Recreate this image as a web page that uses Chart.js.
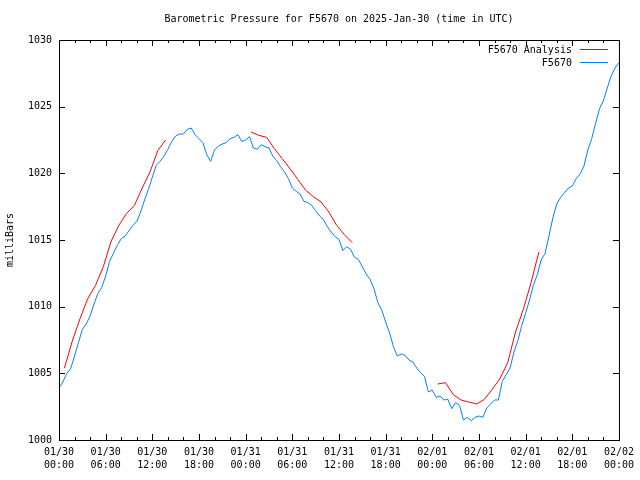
<!DOCTYPE html>
<html>
<head>
<meta charset="utf-8">
<script src="https://cdn.jsdelivr.net/npm/chart.js@4/dist/chart.umd.min.js"></script>
<style>
  body { margin: 0; background: #fff; }
  canvas { display: block; }
</style>
</head>
<body>
<canvas id="myChart" width="640" height="480"></canvas>
<script>
// hours since 2025-01-30 00:00 UTC
const titleText = 'Barometric Pressure for F5670 on 2025-Jan-30 (time in UTC)';
const tickDates = ['01/30', '01/30', '01/30', '01/30', '01/31', '01/31', '01/31', '01/31', '02/01', '02/01', '02/01', '02/01', '02/02'];
const tickTimes = ['00:00', '06:00', '12:00', '18:00', '00:00', '06:00', '12:00', '18:00', '00:00', '06:00', '12:00', '18:00', '00:00'];

// station readings, one every half hour from 00:00
const stationStep = 0.5;
const stationPressure = [
    1003.9, 1004.35, 1005.0, 1005.35, 1006.3, 1007.3, 1008.3, 1008.7, 1009.3, 1010.2,
    1011.0, 1011.45, 1012.3, 1013.4, 1014.0, 1014.6, 1015.1, 1015.3, 1015.7, 1016.1,
    1016.4, 1017.1, 1018.0, 1018.8, 1019.7, 1020.6, 1020.9, 1021.3, 1021.8, 1022.4,
    1022.8, 1022.95, 1022.95, 1023.3, 1023.4, 1022.9, 1022.6, 1022.3, 1021.4, 1020.9,
    1021.75, 1022.05, 1022.2, 1022.3, 1022.6, 1022.7, 1022.9, 1022.4, 1022.5, 1022.75,
    1021.9, 1021.8, 1022.15, 1022.0, 1021.9, 1021.3, 1020.95, 1020.5, 1020.1, 1019.6,
    1018.9, 1018.65, 1018.45, 1017.9, 1017.8, 1017.6, 1017.2, 1016.8, 1016.55, 1016.0,
    1015.6, 1015.25, 1015.05, 1014.2, 1014.5, 1014.3, 1013.7, 1013.55, 1013.0, 1012.45,
    1012.05, 1011.35, 1010.3, 1009.75, 1008.85, 1008.05, 1007.0, 1006.3, 1006.45, 1006.35,
    1006.0, 1005.85, 1005.4, 1005.05, 1004.75, 1003.6, 1003.75, 1003.2, 1003.3, 1003.0,
    1003.05, 1002.35, 1002.8, 1002.6, 1001.5, 1001.7, 1001.45, 1001.7, 1001.8, 1001.7,
    1002.4, 1002.7, 1003.0, 1003.0, 1004.4, 1004.9, 1005.4, 1006.6, 1007.45, 1008.6,
    1009.5, 1010.5, 1011.6, 1012.4, 1013.5, 1014.0, 1015.3, 1016.65, 1017.7, 1018.2,
    1018.55, 1018.9, 1019.05, 1019.6, 1019.95, 1020.55, 1021.75, 1022.6, 1023.75, 1024.85,
    1025.45, 1026.4, 1027.3, 1027.9, 1028.3
];

// analysis runs, hourly values; start hour of each run
const analysisStarts = [0.7, 24.7, 48.7];
const analysisRun1 = [1005.4, 1007.4, 1009.1, 1010.6, 1011.6, 1013.0, 1014.9, 1016.1, 1017.0, 1017.6, 1018.9, 1020.1, 1021.7, 1022.5];
const analysisRun2 = [1023.1, 1022.85, 1022.7, 1021.85, 1021.1, 1020.35, 1019.55, 1018.75, 1018.25, 1017.85, 1017.1, 1016.1, 1015.4, 1014.8];
const analysisRun3 = [1004.2, 1004.3, 1003.4, 1003.0, 1002.85, 1002.7, 1003.05, 1003.8, 1004.6, 1005.8, 1008.1, 1009.8, 1011.8, 1014.1];

const FONT = '"DejaVu Sans Mono", "Liberation Mono", monospace';

const stationData = stationPressure.map((p, i) => ({x: i * stationStep, y: p}));
const analysisData = [];
[analysisRun1, analysisRun2, analysisRun3].forEach((run, r) => {
    run.forEach((p, i) => analysisData.push({x: analysisStarts[r] + i, y: p}));
    analysisData.push({x: analysisStarts[r] + run.length - 0.5, y: null});
});

// gnuplot-like frame, inward ticks, title and key
const gnuplotLook = {
    id: 'gnuplotLook',
    afterDraw(chart) {
        const {ctx, chartArea: a, scales: {x, y}} = chart;
        ctx.save();
        ctx.strokeStyle = '#000';
        ctx.lineWidth = 1;
        ctx.strokeRect(a.left + 0.5, a.top + 0.5, a.right - a.left, a.bottom - a.top);
        ctx.beginPath();
        for (let h = 0; h <= 72; h += 2) {
            const px = Math.round(x.getPixelForValue(h)) + 0.5;
            const len = h % 6 === 0 ? 6 : 3;
            ctx.moveTo(px, a.bottom); ctx.lineTo(px, a.bottom - len);
            ctx.moveTo(px, a.top); ctx.lineTo(px, a.top + len);
        }
        for (let v = 1000; v <= 1030; v += 5) {
            const py = Math.round(y.getPixelForValue(v)) + 0.5;
            ctx.moveTo(a.left, py); ctx.lineTo(a.left + 6, py);
            ctx.moveTo(a.right, py); ctx.lineTo(a.right - 6, py);
        }
        ctx.stroke();

        ctx.fillStyle = '#000';
        ctx.font = '10px ' + FONT;
        ctx.textBaseline = 'middle';
        ctx.textAlign = 'center';
        ctx.fillText(titleText, (a.left + a.right) / 2, 19);

        ctx.textAlign = 'right';
        chart.data.datasets.forEach((ds, i) => {
            const ty = 50 + i * 13;
            ctx.fillStyle = '#000';
            ctx.fillText(ds.label, a.right - 47, ty);
            ctx.strokeStyle = ds.borderColor;
            ctx.beginPath();
            ctx.moveTo(a.right - 39, ty - 0.5);
            ctx.lineTo(a.right - 11, ty - 0.5);
            ctx.stroke();
        });
        ctx.restore();
    }
};

const ctx = document.getElementById('myChart').getContext('2d');
const chart = new Chart(ctx, {
    type: 'line',
    data: {
        datasets: [
            {label: 'F5670 Analysis', data: analysisData, borderColor: '#ff0000', borderWidth: 1, pointRadius: 0, spanGaps: false},
            {label: 'F5670', data: stationData, borderColor: '#0080ff', borderWidth: 1, pointRadius: 0}
        ]
    },
    options: {
        responsive: false,
        animation: false,
        layout: {padding: {top: 40, right: 19, left: 0, bottom: 0}},
        plugins: {legend: {display: false}, title: {display: false}, tooltip: {enabled: false}},
        scales: {
            x: {
                type: 'linear',
                min: 0,
                max: 72,
                afterFit: s => { s.height = 40; },
                grid: {display: false, drawTicks: false},
                border: {display: false},
                ticks: {
                    stepSize: 6,
                    maxRotation: 0,
                    autoSkip: false,
                    padding: 6,
                    color: '#000',
                    font: {family: FONT, size: 10, lineHeight: 1.3},
                    callback: (v, i) => [tickDates[i], tickTimes[i]]
                }
            },
            y: {
                min: 1000,
                max: 1030,
                afterFit: s => { s.width = 59; },
                grid: {display: false, drawTicks: false},
                border: {display: false},
                title: {display: true, text: 'milliBars', color: '#000', font: {family: FONT, size: 10}, padding: {top: 4, bottom: 0}},
                ticks: {
                    stepSize: 5,
                    padding: 7,
                    color: '#000',
                    font: {family: FONT, size: 10},
                    callback: v => String(v)
                }
            }
        }
    },
    plugins: [gnuplotLook]
});
</script>
</body>
</html>
